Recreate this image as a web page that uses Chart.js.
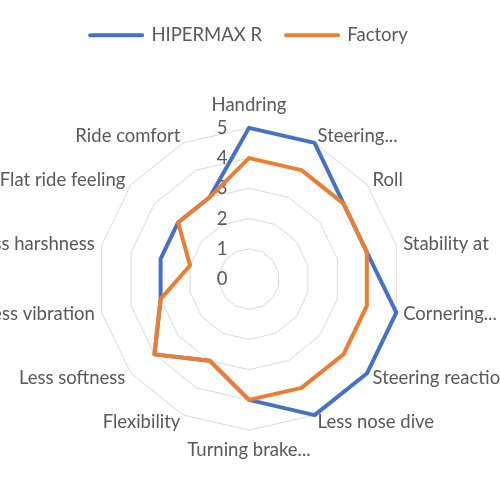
<!DOCTYPE html>
<html><head><meta charset="utf-8">
<script src="https://cdn.jsdelivr.net/npm/chart.js@4/dist/chart.umd.min.js"></script>
<style>
html,body{margin:0;padding:0;width:500px;height:500px;overflow:hidden;background:#fff;}
#wrap{position:absolute;left:-71px;top:0;width:640px;height:500px;}
</style></head>
<body>
<div id="wrap"><canvas id="c"></canvas></div>
<script>
const categories = ["Handring","Steering...","Roll","Stability at","Cornering...","Steering reaction","Less nose dive","Turning brake...","Flexibility","Less softness","Less vibration","Less harshness","Flat ride feeling","Ride comfort"];
const seriesNames = ["HIPERMAX R","Factory"];
const hipermaxValues = [5,5,4,4,5,5,5,4,3,4,3,3,3,3];
const factoryValues  = [4,4,4,4,4,4,4,4,3,4,3,2,3,3];
const tickValues = [0,1,2,3,4,5];

const FONT = 'Lato';
const FSIZE = 18.5;
const TXT = '#595959';

const tickLabelPlugin = {
  id: 'tickLabels',
  beforeDatasetsDraw(chart) {
    const s = chart.scales.r, ctx = chart.ctx;
    ctx.save();
    ctx.font = FSIZE + 'px ' + FONT;
    ctx.fillStyle = TXT;
    ctx.textAlign = 'center';
    ctx.textBaseline = 'middle';
    s.ticks.forEach(t => {
      if (!tickValues.includes(t.value)) return;
      const d = s.getDistanceFromCenterForValue(t.value);
      ctx.fillText(String(t.value), s.xCenter - 27, s.yCenter - d);
    });
    ctx.restore();
  }
};

new Chart(document.getElementById('c'), {
  type: 'radar',
  data: {
    labels: categories,
    datasets: [
      { label: seriesNames[0], data: hipermaxValues, borderColor: '#4472C4', backgroundColor: '#4472C4', borderWidth: 4, fill: false, pointRadius: 0, pointHoverRadius: 0, order: 2 },
      { label: seriesNames[1], data: factoryValues, borderColor: '#ED7D31', backgroundColor: '#ED7D31', borderWidth: 4, fill: false, pointRadius: 0, pointHoverRadius: 0, order: 1 }
    ]
  },
  options: {
    responsive: true,
    maintainAspectRatio: false,
    animation: false,
    elements: { line: { tension: 0, borderJoinStyle: 'round' } },
    layout: { padding: { top: 2, bottom: 47, left: 0, right: 0 } },
    plugins: {
      legend: {
        position: 'top',
        labels: {
          boxWidth: 52, boxHeight: 0, padding: 24, color: TXT,
          font: { family: FONT, size: FSIZE },
          sort: (a, b) => a.datasetIndex - b.datasetIndex
        }
      },
      title: { display: true, text: '', weight: 500, font: { size: 1 }, padding: { top: 0, bottom: 47 } },
      tooltip: { enabled: false }
    },
    scales: {
      r: {
        min: 0, max: 5,
        ticks: { stepSize: 1, display: false },
        angleLines: { display: false },
        grid: { color: '#d9d9d9', lineWidth: 1, circular: false },
        pointLabels: {
          color: TXT,
          font: { family: FONT, size: FSIZE, lineHeight: 0.01 },
          padding: (ctx) => (ctx.index === 0 ? 23 : (ctx.index === 7 ? 20 : 7))
        }
      }
    }
  },
  plugins: [tickLabelPlugin]
});
</script>
</body></html>
